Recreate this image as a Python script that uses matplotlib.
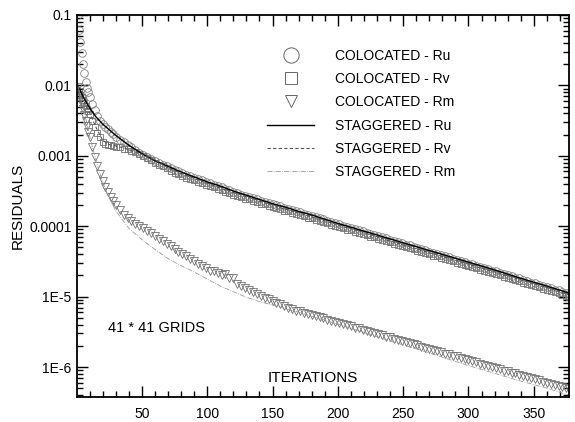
import matplotlib
matplotlib.use("Agg")
import matplotlib.pyplot as plt
import numpy as np
from matplotlib.lines import Line2D
from matplotlib.ticker import FixedLocator, FixedFormatter, LogLocator, MultipleLocator, NullFormatter

plt.rcParams["font.family"] = ["Liberation Sans", "DejaVu Sans"]

# iterations at which the colocated residuals are read (markers)
col_iter = list(range(1, 11)) + list(range(12, 31, 2)) + list(range(33, 376, 3)) + [377]

# log10 of residuals
ru_col_log = [
    -1.00, -1.21, -1.38, -1.54, -1.69, -1.83, -1.95, -2.04, -2.10, -2.16,
    -2.26, -2.35, -2.43, -2.50, -2.55, -2.59, -2.62, -2.66, -2.69, -2.73,
    -2.77, -2.81, -2.85, -2.88, -2.92, -2.96, -2.99, -3.02, -3.05, -3.08,
    -3.10, -3.13, -3.15, -3.18, -3.20, -3.22, -3.25, -3.27, -3.29, -3.31,
    -3.33, -3.35, -3.37, -3.39, -3.41, -3.43, -3.45, -3.47, -3.49, -3.51,
    -3.53, -3.55, -3.57, -3.58, -3.60, -3.62, -3.64, -3.65, -3.67, -3.69,
    -3.70, -3.72, -3.74, -3.75, -3.77, -3.79, -3.80, -3.82, -3.84, -3.85,
    -3.87, -3.89, -3.90, -3.92, -3.94, -3.96, -3.97, -3.99, -4.01, -4.02,
    -4.04, -4.06, -4.07, -4.09, -4.11, -4.12, -4.14, -4.16, -4.17, -4.19,
    -4.21, -4.22, -4.24, -4.26, -4.27, -4.29, -4.31, -4.32, -4.34, -4.36,
    -4.38, -4.39, -4.41, -4.43, -4.44, -4.46, -4.48, -4.49, -4.51, -4.53,
    -4.54, -4.56, -4.58, -4.59, -4.61, -4.63, -4.64, -4.66, -4.68, -4.69,
    -4.71, -4.73, -4.74, -4.76, -4.78, -4.80, -4.81, -4.83, -4.85, -4.86,
    -4.88, -4.90, -4.91, -4.93, -4.95, -4.96,
]
rv_col_log = [
    -2.12, -2.12, -2.14, -2.17, -2.21, -2.25, -2.29, -2.33, -2.37, -2.41,
    -2.50, -2.59, -2.67, -2.74, -2.80, -2.83, -2.84, -2.85, -2.86, -2.87,
    -2.88, -2.90, -2.91, -2.93, -2.95, -2.97, -3.00, -3.03, -3.06, -3.10,
    -3.13, -3.15, -3.18, -3.22, -3.24, -3.26, -3.29, -3.31, -3.33, -3.35,
    -3.37, -3.39, -3.41, -3.43, -3.45, -3.47, -3.49, -3.51, -3.53, -3.55,
    -3.57, -3.59, -3.61, -3.62, -3.64, -3.66, -3.68, -3.69, -3.71, -3.73,
    -3.74, -3.76, -3.78, -3.79, -3.81, -3.83, -3.84, -3.86, -3.88, -3.89,
    -3.91, -3.93, -3.94, -3.96, -3.98, -4.00, -4.01, -4.03, -4.05, -4.06,
    -4.08, -4.10, -4.11, -4.13, -4.15, -4.16, -4.18, -4.20, -4.21, -4.23,
    -4.25, -4.26, -4.28, -4.30, -4.31, -4.33, -4.35, -4.36, -4.38, -4.40,
    -4.42, -4.43, -4.45, -4.47, -4.48, -4.50, -4.52, -4.53, -4.55, -4.57,
    -4.58, -4.60, -4.62, -4.63, -4.65, -4.67, -4.68, -4.70, -4.72, -4.73,
    -4.75, -4.77, -4.78, -4.80, -4.82, -4.84, -4.85, -4.87, -4.89, -4.90,
    -4.92, -4.94, -4.95, -4.97, -4.99, -5.00,
]
rm_col_log = [
    -2.02, -2.10, -2.18, -2.26, -2.34, -2.42, -2.50, -2.58, -2.66, -2.74,
    -2.88, -3.02, -3.14, -3.26, -3.36, -3.45, -3.52, -3.58, -3.64, -3.70,
    -3.77, -3.84, -3.89, -3.93, -3.97, -4.00, -4.03, -4.07, -4.10, -4.14,
    -4.18, -4.21, -4.25, -4.28, -4.32, -4.36, -4.39, -4.43, -4.46, -4.50,
    -4.53, -4.57, -4.60, -4.63, -4.64, -4.66, -4.70, -4.68, -4.74, -4.73,
    -4.82, -4.85, -4.88, -4.91, -4.94, -4.96, -4.99, -5.02, -5.04, -5.06,
    -5.09, -5.11, -5.13, -5.16, -5.18, -5.20, -5.21, -5.23, -5.25, -5.26,
    -5.28, -5.29, -5.31, -5.33, -5.34, -5.36, -5.37, -5.39, -5.41, -5.42,
    -5.44, -5.45, -5.47, -5.49, -5.50, -5.52, -5.53, -5.55, -5.57, -5.58,
    -5.60, -5.61, -5.63, -5.65, -5.66, -5.68, -5.69, -5.71, -5.73, -5.74,
    -5.76, -5.77, -5.79, -5.81, -5.82, -5.84, -5.85, -5.87, -5.89, -5.90,
    -5.92, -5.93, -5.95, -5.97, -5.98, -6.00, -6.01, -6.03, -6.05, -6.06,
    -6.08, -6.09, -6.11, -6.13, -6.14, -6.16, -6.17, -6.19, -6.21, -6.22,
    -6.24, -6.25, -6.27, -6.29, -6.30, -6.31,
]

# staggered grid residuals (lines)
stag_iter = [1, 3, 5, 8, 10, 15, 20, 25, 30, 40, 50, 60, 70, 80, 90, 100, 110,
             120, 130, 140, 150, 160, 170, 180, 200, 220, 240, 260, 280, 300,
             320, 340, 360, 377]
ru_stag_log = [-2.00, -2.08, -2.16, -2.26, -2.32, -2.45, -2.55, -2.63, -2.71,
               -2.85, -2.97, -3.07, -3.15, -3.23, -3.30, -3.37, -3.43, -3.50,
               -3.56, -3.62, -3.68, -3.73, -3.79, -3.84, -3.96, -4.07, -4.18,
               -4.29, -4.40, -4.51, -4.62, -4.74, -4.85, -4.95]
rv_stag_log = [-2.10, -2.14, -2.20, -2.31, -2.39, -2.60, -2.78, -2.84, -2.86,
               -2.91, -2.98, -3.06, -3.17, -3.25, -3.32, -3.39, -3.46, -3.52,
               -3.58, -3.64, -3.70, -3.76, -3.81, -3.87, -3.98, -4.09, -4.21,
               -4.32, -4.43, -4.54, -4.65, -4.76, -4.87, -4.98]
rm_stag_log = [-2.00, -2.14, -2.30, -2.55, -2.72, -3.08, -3.38, -3.60, -3.78,
               -4.03, -4.19, -4.33, -4.46, -4.56, -4.65, -4.75, -4.85, -4.93,
               -5.01, -5.07, -5.12, -5.17, -5.22, -5.28, -5.39, -5.51, -5.63,
               -5.74, -5.86, -5.98, -6.09, -6.20, -6.30, -6.40]

y_ticks = [1e-1, 1e-2, 1e-3, 1e-4, 1e-5, 1e-6]
y_tick_labels = ["0.1", "0.01", "0.001", "0.0001", "1E-5", "1E-6"]
x_ticks = [50, 100, 150, 200, 250, 300, 350]
legend_labels = ["COLOCATED - Ru", "COLOCATED - Rv", "COLOCATED - Rm",
                 "STAGGERED - Ru", "STAGGERED - Rv", "STAGGERED - Rm"]

fig = plt.figure(figsize=(5.75, 4.22), dpi=100)
ax = fig.add_axes([0.1343, 0.0592, 0.8553, 0.9053])

marker_style = dict(linestyle="none", markerfacecolor="none", markeredgewidth=0.6)
ax.plot(col_iter, 10 ** np.array(ru_col_log), marker="o", markersize=5.5,
        markeredgecolor="#808080", **marker_style)
ax.plot(col_iter, 10 ** np.array(rv_col_log), marker="s", markersize=4.5,
        markeredgecolor="#707070", **marker_style)
ax.plot(col_iter, 10 ** np.array(rm_col_log), marker="v", markersize=5.5,
        markeredgecolor="#707070", **marker_style)

ax.plot(stag_iter, 10 ** np.array(ru_stag_log), color="black", linewidth=1.0)
ax.plot(stag_iter, 10 ** np.array(rv_stag_log), color="#555555", linewidth=0.8,
        linestyle=(0, (3, 2)))
ax.plot(stag_iter, 10 ** np.array(rm_stag_log), color="#9a9a9a", linewidth=0.6,
        linestyle=(0, (6, 1.5, 1, 1.5)))

ax.set_yscale("log")
ax.set_xlim(0.5, 377)
ax.set_ylim(3.75e-7, 0.1)

ax.yaxis.set_major_locator(FixedLocator(y_ticks))
ax.yaxis.set_major_formatter(FixedFormatter(y_tick_labels))
ax.yaxis.set_minor_locator(LogLocator(base=10, subs=np.arange(2, 10)))
ax.yaxis.set_minor_formatter(NullFormatter())
ax.xaxis.set_major_locator(FixedLocator(x_ticks))
ax.xaxis.set_minor_locator(MultipleLocator(10))

ax.tick_params(which="both", direction="in", top=True, right=True, width=1.0,
               labelsize=10, colors="black")
ax.tick_params(which="major", length=8)
ax.tick_params(which="minor", length=4)
ax.tick_params(axis="x", which="major", pad=7)
ax.tick_params(axis="y", which="major", pad=4)
for spine in ax.spines.values():
    spine.set_linewidth(1.3)

ax.set_ylabel("RESIDUALS", fontsize=11, labelpad=3)
fig.text(108 / 575, 1 - 328.5 / 422, "41 * 41 GRIDS", fontsize=10.5, va="center")
fig.text(268 / 575, 1 - 377.5 / 422, "ITERATIONS", fontsize=11, va="center")

handles = [
    Line2D([], [], linestyle="none", marker="o", markersize=11, markerfacecolor="none",
           markeredgecolor="#666666", markeredgewidth=0.7),
    Line2D([], [], linestyle="none", marker="s", markersize=8, markerfacecolor="none",
           markeredgecolor="#666666", markeredgewidth=0.7),
    Line2D([], [], linestyle="none", marker="v", markersize=9, markerfacecolor="none",
           markeredgecolor="#666666", markeredgewidth=0.7),
    Line2D([], [], color="black", linewidth=1.0),
    Line2D([], [], color="#555555", linewidth=0.8, linestyle=(0, (3, 2))),
    Line2D([], [], color="#9a9a9a", linewidth=0.6, linestyle=(0, (6, 1.5, 1, 1.5))),
]
fig.legend(handles, legend_labels, loc="upper left",
           bbox_to_anchor=(267 / 575, 1 - 49 / 422),
           frameon=False, fontsize=10, handlelength=3.4, handletextpad=1.5,
           labelspacing=0.66, borderpad=0, borderaxespad=0)

fig.savefig("out.png", dpi=100)
